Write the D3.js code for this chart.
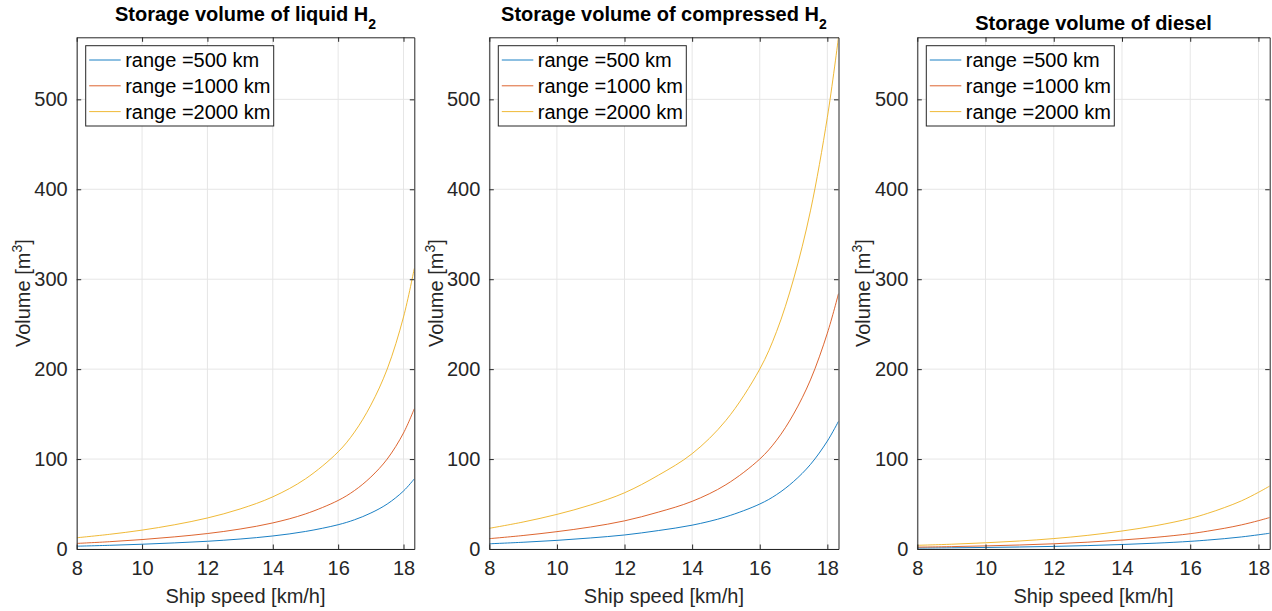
<!DOCTYPE html>
<html>
<head>
<meta charset="utf-8">
<script src="https://cdn.jsdelivr.net/npm/d3@7"></script>
<style>
	body { margin:0; background:#fff; }
	svg { display:block; font-family:"Liberation Sans", Arial, Helvetica, sans-serif; }
</style>
</head>
<body>
<div id="chart"></div>
<script>
// ship speed [km/h]
var speeds = [8, 9, 10, 11, 12, 13, 14, 15, 16, 16.5, 17, 17.5, 18, 18.33];
var rangeLabels = ['range =500 km', 'range =1000 km', 'range =2000 km'];
var xTicks = [8, 10, 12, 14, 16, 18];
var yTicks = [0, 100, 200, 300, 400, 500];

// liquid H2 volume [m3]
var liquid500  = [3.1, 4.1, 5.3, 6.8, 8.6, 11.1, 14.5, 19.5, 27, 32.5, 40, 50, 64.5, 78];
var liquid1000 = [6.2, 8.1, 10.5, 13.5, 17.2, 22.2, 29, 39, 54, 65, 80, 100, 129, 156];
var liquid2000 = [12.5, 16.3, 21, 27, 34.5, 44.5, 58, 78, 108, 130, 160, 200, 258, 312];
// compressed H2 volume [m3]
var comp500  = [5.8, 7.5, 9.6, 12.3, 15.6, 20.5, 26.5, 35.8, 50, 60.5, 75, 94, 120, 142];
var comp1000 = [11.5, 15, 19.3, 24.5, 31.3, 41, 53, 71.5, 100, 121, 150, 188, 240, 284];
var comp2000 = [23, 30, 38.5, 49, 62.5, 82, 106, 143, 200, 242, 300, 376, 480, 569];
// diesel volume [m3]
var diesel500  = [1.03, 1.33, 1.73, 2.23, 2.9, 3.8, 5, 6.5, 8.5, 9.9, 11.5, 13.4, 15.8, 17.5];
var diesel1000 = [2.05, 2.65, 3.45, 4.45, 5.8, 7.6, 10, 13, 17, 19.8, 23, 26.8, 31.5, 35];
var diesel2000 = [4.1, 5.3, 6.9, 8.9, 11.6, 15.2, 20, 26, 34, 39.5, 46, 53.5, 63, 70];

var colors = ['#0072BD', '#D95319', '#EDB120'];

var width = 1272, height = 611
	, plotTop = 37.3, plotBottom = 549
	, yMax = 569, xMin = 8, xMax = 18.33
	, fontSize = '20px', subSize = '14px';

var svg = d3.select('#chart')
	.append('svg')
	.attr('width', width)
	.attr('height', height);

var panels = [
	{left: 76.7,  right: 414.3,  title: 'Storage volume of liquid H', sub: '2', series: [liquid500, liquid1000, liquid2000], ylabX: 23},
	{left: 489.3, right: 838.5,  title: 'Storage volume of compressed H', sub: '2', series: [comp500, comp1000, comp2000], ylabX: 436},
	{left: 917.3, right: 1269.7, title: 'Storage volume of diesel', sub: null, series: [diesel500, diesel1000, diesel2000], ylabX: 863}
];

panels.forEach(function(p, idx){
	var x = d3.scaleLinear().domain([xMin, xMax]).range([p.left, p.right]);
	var y = d3.scaleLinear().domain([0, yMax]).range([plotBottom, plotTop]);
	var g = svg.append('g').attr('class', 'panel panel-' + idx);

	// grid
	g.append('g')
		.selectAll('line')
		.data(xTicks)
		.enter().append('line')
			.attr('x1', function(d){ return x(d); })
			.attr('x2', function(d){ return x(d); })
			.attr('y1', plotTop)
			.attr('y2', plotBottom)
			.attr('stroke', '#e6e6e6')
			.attr('stroke-width', 1);
	g.append('g')
		.selectAll('line')
		.data(yTicks)
		.enter().append('line')
			.attr('x1', p.left)
			.attr('x2', p.right)
			.attr('y1', function(d){ return y(d); })
			.attr('y2', function(d){ return y(d); })
			.attr('stroke', '#e6e6e6')
			.attr('stroke-width', 1);

	// curves
	var clipId = 'clip' + idx;
	svg.append('clipPath').attr('id', clipId)
		.append('rect')
			.attr('x', p.left).attr('y', plotTop)
			.attr('width', p.right - p.left).attr('height', plotBottom - plotTop);
	var line = d3.line()
		.x(function(d, i){ return x(speeds[i]); })
		.y(function(d){ return y(d); })
		.curve(d3.curveCatmullRom.alpha(0.5));
	g.append('g')
		.attr('clip-path', 'url(#' + clipId + ')')
		.selectAll('path')
		.data(p.series)
		.enter().append('path')
			.attr('d', line)
			.attr('fill', 'none')
			.attr('stroke', function(d, i){ return colors[i]; })
			.attr('stroke-width', 0.9);

	// axes (MATLAB box: ticks inward on all four sides)
	var tickLen = 4.5;
	var xAxisB = d3.axisBottom(x).tickValues(xTicks).tickSizeInner(-tickLen).tickSizeOuter(0).tickPadding(12);
	var xAxisT = d3.axisTop(x).tickValues(xTicks).tickSizeInner(-tickLen).tickSizeOuter(0).tickFormat('');
	var yAxisL = d3.axisLeft(y).tickValues(yTicks).tickSizeInner(-tickLen).tickSizeOuter(0).tickPadding(9);
	var yAxisR = d3.axisRight(y).tickValues(yTicks).tickSizeInner(-tickLen).tickSizeOuter(0).tickFormat('');

	[[xAxisB, 'translate(0,' + plotBottom + ')'], [xAxisT, 'translate(0,' + plotTop + ')'],
	 [yAxisL, 'translate(' + p.left + ',0)'], [yAxisR, 'translate(' + p.right + ',0)']].forEach(function(a){
		var ax = g.append('g').attr('transform', a[1]).call(a[0]);
		ax.select('.domain').attr('stroke', '#262626').attr('stroke-width', 1);
		ax.selectAll('.tick line').attr('stroke', '#262626');
		ax.selectAll('.tick text')
			.attr('fill', '#262626')
			.style('font-size', fontSize)
			.style('font-family', '"Liberation Sans", Arial, sans-serif');
	});

	// title
	var cx = (p.left + p.right) / 2;
	var title = g.append('text')
		.attr('x', cx)
		.attr('y', p.sub ? 21 : 29.5)
		.attr('text-anchor', 'middle')
		.style('font-size', fontSize)
		.style('font-weight', 'bold')
		.attr('fill', '#000')
		.text(p.title);
	if (p.sub) {
		title.append('tspan')
			.attr('dy', 8)
			.style('font-size', subSize)
			.text(p.sub);
	}

	// x label
	g.append('text')
		.attr('x', cx)
		.attr('y', 603)
		.attr('text-anchor', 'middle')
		.style('font-size', fontSize)
		.attr('fill', '#262626')
		.text('Ship speed [km/h]');

	// y label
	var yl = g.append('text')
		.attr('transform', 'translate(' + p.ylabX + ',' + ((plotTop + plotBottom) / 2) + ') rotate(-90)')
		.attr('text-anchor', 'middle')
		.attr('dy', '0.35em')
		.style('font-size', fontSize)
		.attr('fill', '#262626')
		.text('Volume [m');
	yl.append('tspan').attr('dy', -8).style('font-size', subSize).text('3');
	yl.append('tspan').attr('dy', 8).text(']');

	// legend
	var lx = p.left + 9, ly = 45.7, lw = 188, lh = 80.3;
	var leg = g.append('g').attr('class', 'legend');
	leg.append('rect')
		.attr('x', lx).attr('y', ly)
		.attr('width', lw).attr('height', lh)
		.attr('fill', '#fff')
		.attr('stroke', '#262626')
		.attr('stroke-width', 1);
	rangeLabels.forEach(function(lab, i){
		var ry = 60 + i * 25.8;
		leg.append('line')
			.attr('x1', lx + 3.5).attr('x2', lx + 35)
			.attr('y1', ry).attr('y2', ry)
			.attr('stroke', colors[i])
			.attr('stroke-width', 0.9);
		leg.append('text')
			.attr('x', lx + 39.5)
			.attr('y', ry)
			.attr('dy', '0.35em')
			.style('font-size', fontSize)
			.attr('fill', '#000')
			.text(lab);
	});
});
</script>
</body>
</html>
